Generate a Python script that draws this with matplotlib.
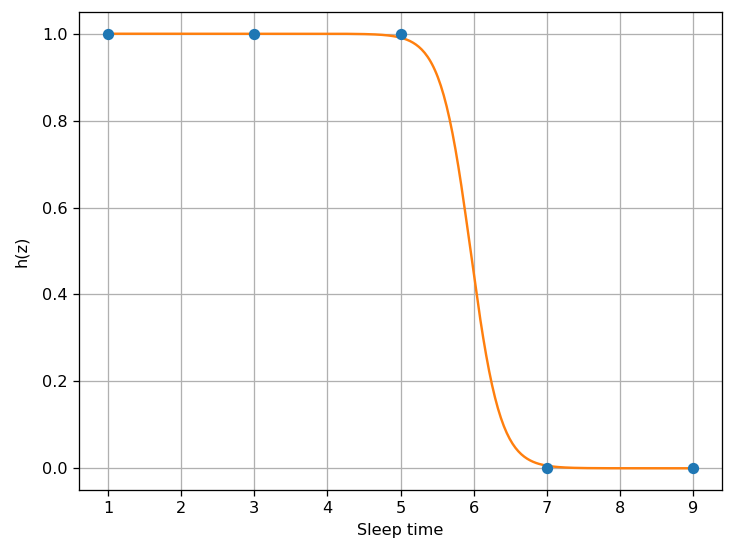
import numpy as np
import matplotlib
matplotlib.use("Agg")
import matplotlib.pyplot as plt

sleep_time = [1, 3, 5, 7, 9]
h_values = [1, 1, 1, 0, 0]

# fitted logistic model parameters
weight = -4.9
bias = 29.2

DPI = 116
fig = plt.figure(figsize=(734 / DPI, 559 / DPI), dpi=DPI)
ax = fig.add_axes([79 / 734, 69 / 559, 643 / 734, 478 / 559])

ax.scatter(sleep_time, h_values, color="#1f77b4", zorder=3)
xs = np.linspace(min(sleep_time), max(sleep_time), 400)
ax.plot(xs, 1 / (1 + np.exp(-(weight * xs + bias))), color="#ff7f0e", zorder=2)

ax.set_xlabel("Sleep time")
ax.set_ylabel("h(z)", labelpad=8)
ax.grid(True)
ax.set_axisbelow(True)

fig.savefig("out.png", dpi=DPI)
